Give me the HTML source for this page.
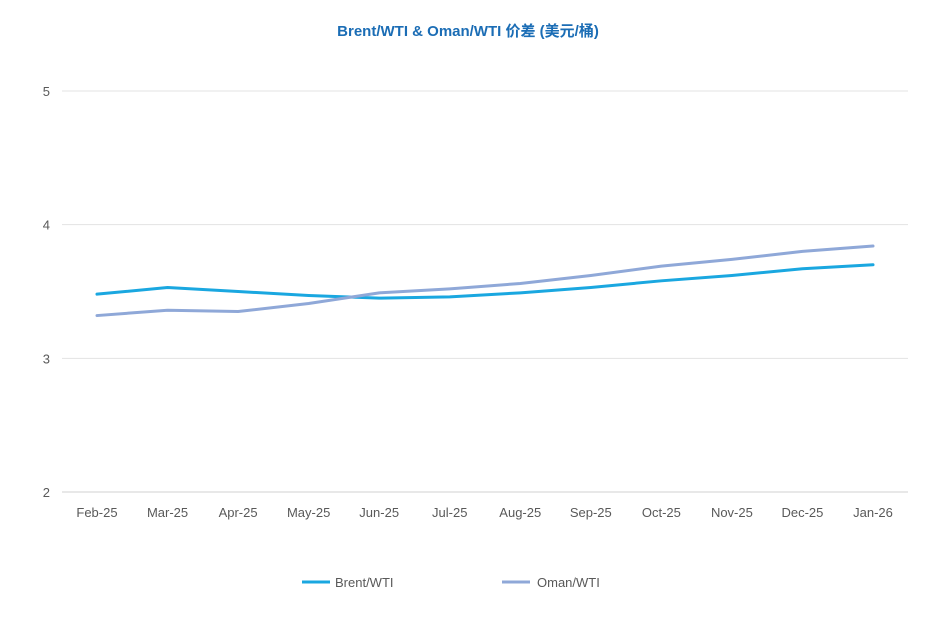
<!DOCTYPE html>
<html><head><meta charset="utf-8"><style>
body{margin:0;background:#fff;}
svg text{font-family:"Liberation Sans","Noto Sans CJK SC",sans-serif;}
</style></head><body>
<svg id="chart" width="937" height="634" viewBox="0 0 937 634" xmlns="http://www.w3.org/2000/svg">
<text x="468" y="36" text-anchor="middle" font-size="15" font-weight="bold" fill="#1b6db5">Brent/WTI &amp; Oman/WTI 价差 (美元/桶)</text>
<g id="grid"></g><g id="yticks"></g><g id="xticks"></g><g id="series"></g>
<g>
<line x1="302" y1="582" x2="330" y2="582" stroke="#1aa7e0" stroke-width="3"/>
<text x="335" y="587" font-size="13" fill="#595959">Brent/WTI</text>
<line x1="502" y1="582" x2="530" y2="582" stroke="#8fa8d8" stroke-width="3"/>
<text x="537" y="587" font-size="13" fill="#595959">Oman/WTI</text>
</g>
</svg>
<script>
const categories=["Feb-25","Mar-25","Apr-25","May-25","Jun-25","Jul-25","Aug-25","Sep-25","Oct-25","Nov-25","Dec-25","Jan-26"];
const brentValues=[3.48,3.53,3.50,3.47,3.45,3.46,3.49,3.53,3.58,3.62,3.67,3.70];
const omanValues=[3.32,3.36,3.35,3.41,3.49,3.52,3.56,3.62,3.69,3.74,3.80,3.84];
const yTicks=[2,3,4,5];
const NS="http://www.w3.org/2000/svg";
const x=i=>97+i*(873-97)/(categories.length-1);
const y=v=>492-(v-2)*(492-91)/3;
function mk(tag,attrs,parent){const e=document.createElementNS(NS,tag);for(const k in attrs)e.setAttribute(k,attrs[k]);parent.appendChild(e);return e;}
const grid=document.getElementById('grid'),yt=document.getElementById('yticks'),xt=document.getElementById('xticks'),ser=document.getElementById('series');
yTicks.forEach(t=>{
 const l=mk('line',{x1:62,x2:908,y1:y(t),y2:y(t),stroke:t===2?'#d0d0d0':'#e3e3e3','stroke-width':1},grid);
 
 
 const tx=mk('text',{x:50,y:y(t)+5,'text-anchor':'end','font-size':13,fill:'#595959'},yt);tx.textContent=t;
 
 
});
categories.forEach((c,i)=>{
 const tx=mk('text',{x:x(i),y:517,'text-anchor':'middle','font-size':13,fill:'#595959'},xt);tx.textContent=c;
 
 
});
function line(vals,color,name){
 const p=mk('polyline',{points:vals.map((v,i)=>x(i)+','+y(v)).join(' '),fill:'none',stroke:color,'stroke-width':3,'stroke-linejoin':'round','stroke-linecap':'round'},ser);
 
 
}
line(brentValues,'#1aa7e0','brent-wti-line');
line(omanValues,'#8fa8d8','oman-wti-line');
</script>
</body></html>
